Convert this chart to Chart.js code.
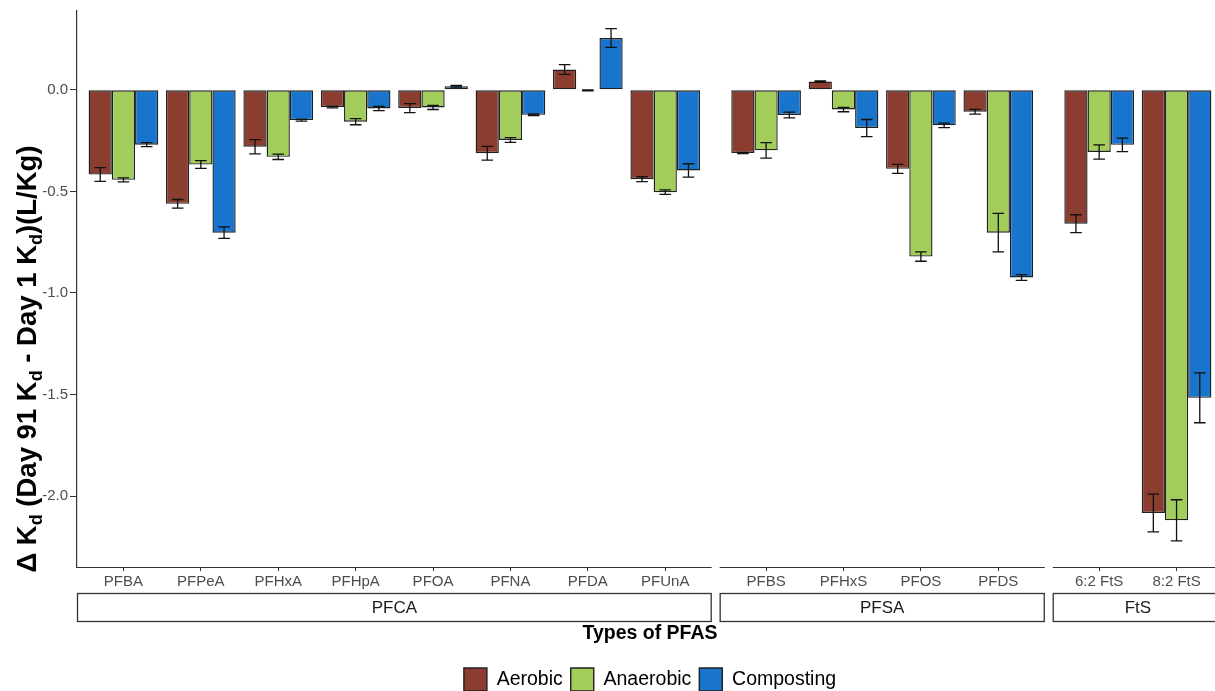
<!DOCTYPE html>
<html>
<head>
<meta charset="utf-8">
<script src="https://cdn.jsdelivr.net/npm/chart.js@4/dist/chart.umd.min.js"></script>
<style>
  html, body { margin: 0; padding: 0; background: #ffffff; overflow: hidden; }
  #wrap { position: relative; width: 1230px; height: 701px; }
</style>
</head>
<body>
<div id="wrap"><canvas id="chart"></canvas></div>
<script>
// ---- data -------------------------------------------------------------
const groups = ['PFCA', 'PFSA', 'FtS'];
const pfcaCompounds = ['PFBA', 'PFPeA', 'PFHxA', 'PFHpA', 'PFOA', 'PFNA', 'PFDA', 'PFUnA'];
const pfsaCompounds = ['PFBS', 'PFHxS', 'PFOS', 'PFDS'];
const ftsCompounds = ['6:2 FtS', '8:2 FtS'];
const seriesNames = ['Aerobic', 'Anaerobic', 'Composting'];

// mean change in Kd (L/Kg), compounds in the order PFCA, PFSA, FtS
const aerobic    = [-0.417, -0.561, -0.280, -0.085, -0.090, -0.312,  0.100, -0.440,  -0.311,  0.041, -0.389, -0.108,  -0.659, -2.083];
const anaerobic  = [-0.443, -0.368, -0.330, -0.157, -0.087, -0.247, -0.003, -0.504,  -0.298, -0.097, -0.821, -0.703,  -0.306, -2.119];
const composting = [-0.270, -0.703, -0.149, -0.092,  0.018, -0.123,  0.255, -0.397,  -0.124, -0.188, -0.175, -0.924,  -0.271, -1.516];

// error bar half-widths
const aerobicErr    = [0.034, 0.021, 0.035, 0.004, 0.022, 0.034, 0.024, 0.012,  0.003, 0.003, 0.022, 0.012,  0.044, 0.093];
const anaerobicErr  = [0.010, 0.019, 0.013, 0.015, 0.010, 0.012, 0.002, 0.011,  0.038, 0.011, 0.023, 0.095,  0.035, 0.101];
const compostingErr = [0.010, 0.028, 0.005, 0.010, 0.004, 0.004, 0.046, 0.033,  0.014, 0.042, 0.011, 0.014,  0.033, 0.123];

const yTicks = [-2.0, -1.5, -1.0, -0.5, 0.0];

// ---- facet layout on a single linear x scale ---------------------------
const EXPAND = 0.6;      // padding around each facet, in category units
const PANEL_GAP = 0.103; // spacing between facets, in category units

const groupCompounds = [pfcaCompounds, pfsaCompounds, ftsCompounds];
const allCompounds = [];
const xPos = [];
const panels = [];
let cursor = -EXPAND;
groupCompounds.forEach((cats, gi) => {
  const start = cursor;
  const first = start + EXPAND;
  cats.forEach((c, i) => { allCompounds.push(c); xPos.push(first + i); });
  const end = first + cats.length - 1 + EXPAND;
  panels.push({ name: groups[gi], start, end });
  cursor = end + PANEL_GAP;
});
const xMin = panels[0].start;
const xMax = panels[panels.length - 1].end;

const FONT = '"Liberation Sans", Arial, Helvetica, sans-serif';
const colors = ['#8B3E2F', '#A2CD5A', '#1874CD'];
const seriesValues = [aerobic, anaerobic, composting];
const seriesErrors = [aerobicErr, anaerobicErr, compostingErr];

const datasets = seriesNames.map((name, s) => ({
  label: name,
  data: seriesValues[s].map((v, i) => ({ x: xPos[i], y: v })),
  errors: seriesErrors[s],
  backgroundColor: colors[s],
  borderColor: '#202020',
  borderWidth: 1.4,
  borderSkipped: false,
  categoryPercentage: 0.9,
  barPercentage: 1.0
}));

// error bars on top of each bar
const errorBars = {
  id: 'errorBars',
  afterDatasetsDraw(chart) {
    const ctx = chart.ctx;
    const y = chart.scales.y;
    const cap = 5.8;
    ctx.save();
    ctx.strokeStyle = '#111111';
    ctx.lineWidth = 1.3;
    chart.data.datasets.forEach((ds, di) => {
      const meta = chart.getDatasetMeta(di);
      meta.data.forEach((bar, i) => {
        const v = ds.data[i].y, e = ds.errors[i];
        const yHi = y.getPixelForValue(v + e);
        const yLo = y.getPixelForValue(v - e);
        ctx.beginPath();
        ctx.moveTo(bar.x, yHi); ctx.lineTo(bar.x, yLo);
        ctx.moveTo(bar.x - cap, yHi); ctx.lineTo(bar.x + cap, yHi);
        ctx.moveTo(bar.x - cap, yLo); ctx.lineTo(bar.x + cap, yLo);
        ctx.stroke();
      });
    });
    ctx.restore();
  }
};

// facet axis lines, strip labels and the y axis title
const facetDecor = {
  id: 'facetDecor',
  afterDraw(chart) {
    const ctx = chart.ctx;
    const x = chart.scales.x;
    const area = chart.chartArea;
    ctx.save();
    // broken x axis line, one segment per facet
    ctx.strokeStyle = '#333333';
    ctx.lineWidth = 1.2;
    panels.forEach(p => {
      const a = x.getPixelForValue(p.start), b = x.getPixelForValue(p.end);
      ctx.beginPath();
      ctx.moveTo(a, area.bottom + 0.5); ctx.lineTo(b, area.bottom + 0.5);
      ctx.stroke();
    });
    // strips
    const sTop = area.bottom + 26, sH = 28;
    ctx.font = '17px ' + FONT;
    ctx.textAlign = 'center';
    ctx.textBaseline = 'middle';
    panels.forEach(p => {
      const a = x.getPixelForValue(p.start), b = x.getPixelForValue(p.end);
      ctx.fillStyle = '#ffffff';
      ctx.fillRect(a, sTop, b - a, sH);
      ctx.strokeStyle = '#333333';
      ctx.lineWidth = 1.3;
      ctx.strokeRect(a + 0.5, sTop + 0.5, b - a - 1, sH);
      ctx.fillStyle = '#1a1a1a';
      ctx.fillText(p.name, (a + b) / 2, sTop + sH / 2 + 1);
    });
    // rotated y axis title with subscripts
    const size = 27.5;
    const parts = [['\u0394 K', false], ['d', true], [' (Day 91 K', false], ['d', true],
                   [' - Day 1 K', false], ['d', true], [')(L/Kg)', false]];
    const mainFont = 'bold ' + size + 'px ' + FONT;
    const subFont = 'bold ' + Math.round(size * 0.64) + 'px ' + FONT;
    let total = 0;
    parts.forEach(([t, sub]) => { ctx.font = sub ? subFont : mainFont; total += ctx.measureText(t).width; });
    ctx.translate(36, 359);
    ctx.rotate(-Math.PI / 2);
    ctx.fillStyle = '#000000';
    ctx.textAlign = 'left';
    ctx.textBaseline = 'alphabetic';
    let pos = -total / 2;
    parts.forEach(([t, sub]) => {
      ctx.font = sub ? subFont : mainFont;
      ctx.fillText(t, pos, sub ? size * 0.2 : 0);
      pos += ctx.measureText(t).width;
    });
    ctx.restore();
  }
};

new Chart(document.getElementById('chart'), {
  type: 'bar',
  data: { datasets },
  options: {
    responsive: true,
    maintainAspectRatio: false,
    animation: false,
    events: [],
    layout: { padding: { top: 10, right: 7, left: 0, bottom: 0 } },
    plugins: {
      tooltip: { enabled: false },
      legend: {
        position: 'bottom',
        fullSize: false,
        labels: {
          boxWidth: 23,
          boxHeight: 23,
          padding: 8,
          color: '#000000',
          font: { family: FONT, size: 19.5 }
        }
      }
    },
    scales: {
      x: {
        type: 'linear',
        min: xMin,
        max: xMax,
        offset: false,
        border: { display: false },
        grid: { display: true, offset: false, drawOnChartArea: false, drawTicks: true, tickLength: 4, color: '#333333', lineWidth: 1 },
        afterBuildTicks(scale) { scale.ticks = xPos.map(v => ({ value: v })); },
        afterFit(scale) { scale.height = 93; },
        ticks: {
          autoSkip: false,
          maxRotation: 0,
          padding: 2,
          color: '#4d4d4d',
          font: { family: FONT, size: 15 },
          callback: (v, i) => allCompounds[i]
        },
        title: {
          display: true,
          text: 'Types of PFAS',
          color: '#000000',
          font: { family: FONT, size: 19.5, weight: 'bold' },
          padding: { top: 0, bottom: 15 }
        }
      },
      y: {
        min: -2.349,
        max: 0.388,
        border: { display: true, color: '#333333', width: 1.2 },
        grid: { display: true, drawOnChartArea: false, drawTicks: true, tickLength: 7, color: '#333333', lineWidth: 1 },
        afterBuildTicks(scale) { scale.ticks = yTicks.map(v => ({ value: v })); },
        afterFit(scale) { scale.width = 77; },
        ticks: {
          padding: 2,
          color: '#4d4d4d',
          font: { family: FONT, size: 15 },
          callback: v => v.toFixed(1)
        }
      }
    }
  },
  plugins: [errorBars, facetDecor]
});
</script>
</body>
</html>
